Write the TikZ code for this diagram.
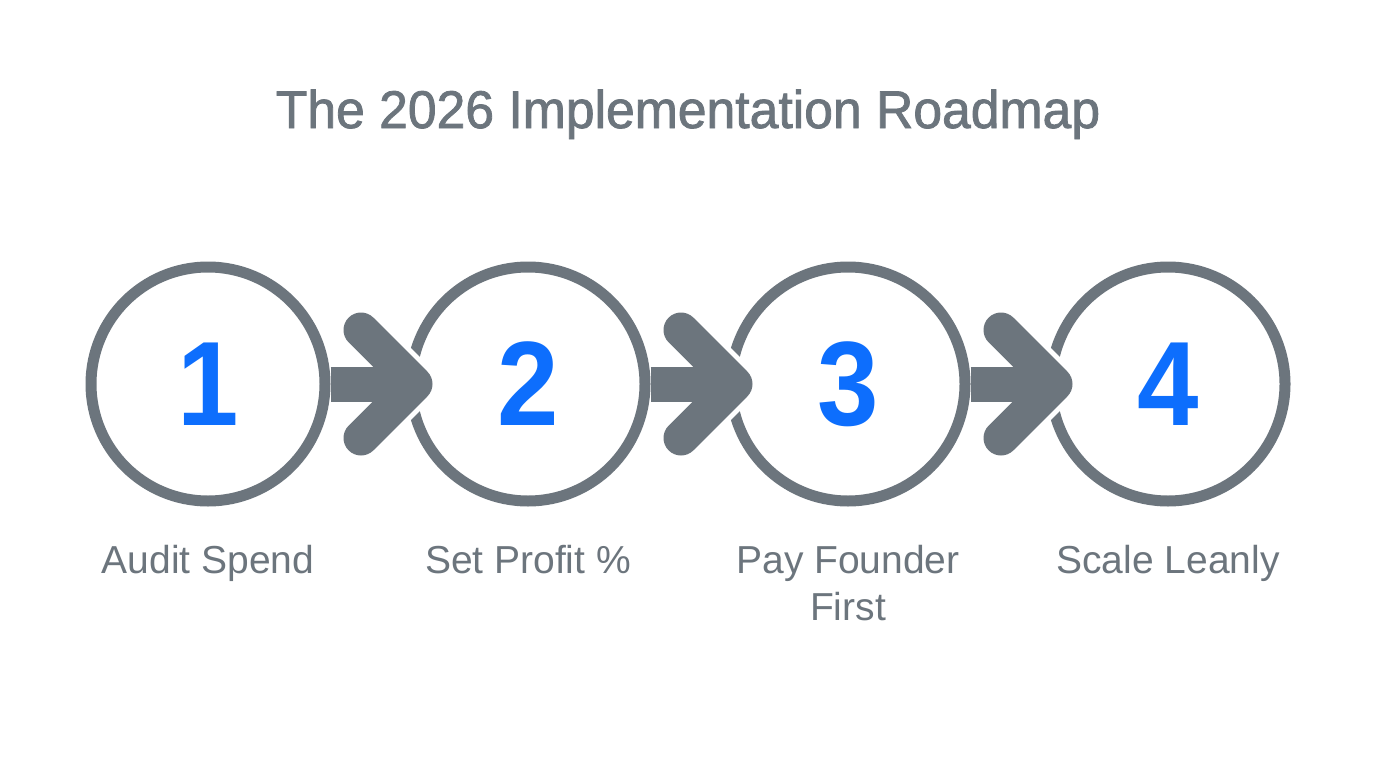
\documentclass[tikz,border=0pt]{standalone}
\usepackage{fontspec}
\setmainfont{Liberation Sans}
\newfontfamily\titlefont[FakeBold=1.5,FakeStretch=0.975]{Liberation Sans}
\newfontfamily\numfont[FakeStretch=0.92]{Liberation Sans}
\usetikzlibrary{calc}
\definecolor{rmgray}{HTML}{6C757D}
\definecolor{rmblue}{HTML}{0D6EFD}
\begin{document}
\begin{tikzpicture}[x=1pt,y=-1pt,
  stepcircle/.style={circle, draw=rmgray, line width=11pt, minimum size=234pt, inner sep=0pt, fill=white},
  num/.style={text=rmblue, font=\numfont\bfseries\fontsize{120}{120}\selectfont},
  lbl/.style={text=rmgray, font=\fontsize{39}{47}\selectfont, align=center, anchor=base, inner sep=0pt},
  shaft/.style={draw=rmgray, line width=35pt},
  chev/.style={draw=rmgray, line width=35pt, line cap=round, line join=round},
  chevgap/.style={draw=white, line width=45pt, line cap=round, line join=round}]
\fill[white] (0,0) rectangle (1376,768);
\useasboundingbox (0,0) rectangle (1376,768);

\node[text=rmgray, font=\titlefont\fontsize{53}{53}\selectfont, anchor=base, inner sep=0pt] (title) at (688,128) {The 2026 Implementation Roadmap};

\node[stepcircle, num] (c1) at (208,384) {1};
\node[stepcircle, num] (c2) at (528,384) {2};
\node[stepcircle, num] (c3) at (848,384) {3};
\node[stepcircle, num] (c4) at (1168,384) {4};

\foreach \i in {1,2,3} {
  \coordinate (t\i) at ($(c\i)+(153,-54)$);
  \coordinate (v\i) at ($(c\i)+(207,0)$);
  \coordinate (b\i) at ($(c\i)+(153,54)$);
  \coordinate (s\i) at ($(c\i)+(200,0)$);
  \draw[chevgap] (t\i) -- (v\i) -- (b\i);
  \draw[shaft] (c\i.east) -- (s\i);
  \draw[chev] (t\i) -- (v\i) -- (b\i);
}

\node[lbl] (l1) at (208,573) {Audit Spend};
\node[lbl] (l2) at (528,573) {Set Profit \%};
\node[lbl] (l3) at (848,620.5) {Pay Founder\\First};
\node[lbl] (l4) at (1168,573) {Scale Leanly};
\end{tikzpicture}
\end{document}
